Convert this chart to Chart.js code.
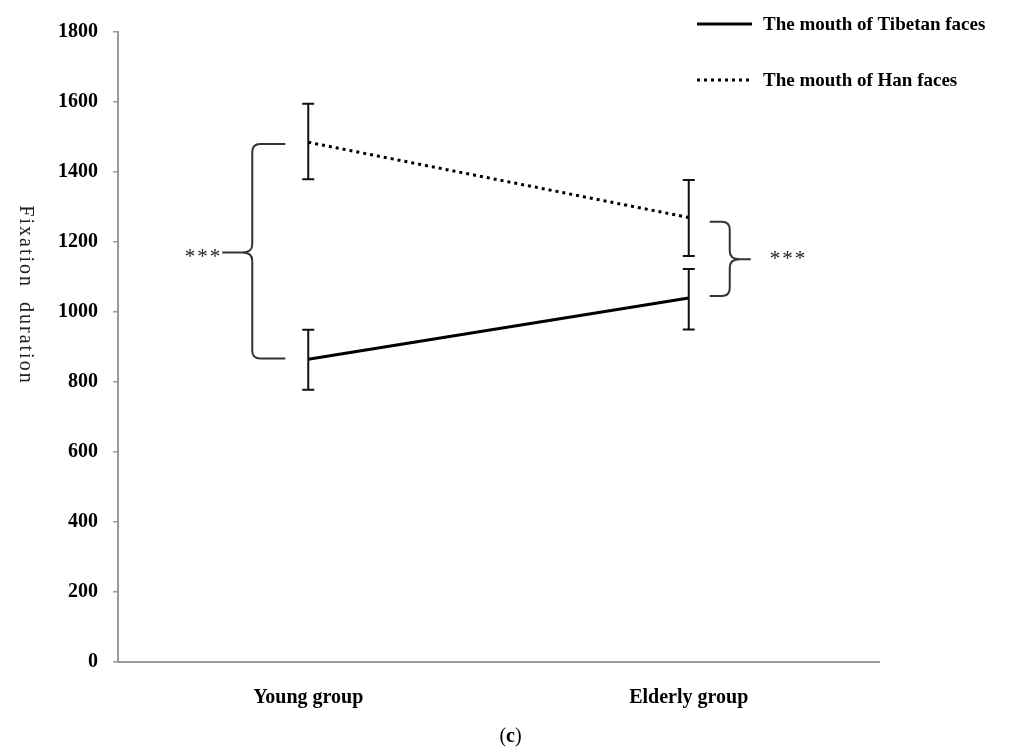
<!DOCTYPE html>
<html>
<head>
<meta charset="utf-8">
<script src="https://cdn.jsdelivr.net/npm/chart.js@4"></script>
<style>
  body { margin: 0; background: #fff; }
  #wrap { position: relative; width: 1013px; height: 749px; }
  #caption { position: absolute; left: 0; width: 1013px; top: 724px; text-align: center;
    font: 20px "Liberation Serif", serif; color: #000; padding-left: 4px; }
</style>
</head>
<body>
<div id="wrap">
  <canvas id="chart" width="1013" height="749"></canvas>
  <div id="caption">(<b>c</b>)</div>
</div>
<script>
const categories = ['Young group', 'Elderly group'];

const tibetanMean = [865, 1040];
const tibetanLow = [778, 950];
const tibetanHigh = [949, 1123];

const hanMean = [1485, 1270];
const hanLow = [1379, 1160];
const hanHigh = [1595, 1377];

const yTicks = [0, 200, 400, 600, 800, 1000, 1200, 1400, 1600, 1800];

// significance brackets: [young, elderly]
const bracketTop = [1480, 1258];
const bracketBottom = [867, 1046];
const bracketTip = [1170, 1151];
const bracketLabel = ['***', '***'];

const legendLabels = ['The mouth of Tibetan faces', 'The mouth of Han faces'];
const yTitle = 'Fixation  duration';

const serif = '"Liberation Serif", "Times New Roman", serif';

const extrasPlugin = {
  id: 'extras',
  afterDatasetsDraw(chart) {
    const ctx = chart.ctx;
    const x = chart.scales.x, y = chart.scales.y;

    // error bars
    ctx.save();
    ctx.strokeStyle = '#111';
    ctx.lineWidth = 2;
    const bars = [[tibetanLow, tibetanHigh], [hanLow, hanHigh]];
    bars.forEach(([lo, hi]) => {
      categories.forEach((c, i) => {
        const px = x.getPixelForValue(i);
        const y1 = y.getPixelForValue(lo[i]), y2 = y.getPixelForValue(hi[i]);
        ctx.beginPath();
        ctx.moveTo(px, y1); ctx.lineTo(px, y2);
        ctx.moveTo(px - 6, y1); ctx.lineTo(px + 6, y1);
        ctx.moveTo(px - 6, y2); ctx.lineTo(px + 6, y2);
        ctx.stroke();
      });
    });
    ctx.restore();

    // braces with asterisks
    ctx.save();
    ctx.strokeStyle = '#333';
    ctx.lineWidth = 2;
    categories.forEach((c, i) => {
      const px = x.getPixelForValue(i);
      const dir = i === 0 ? -1 : 1;
      const xEnd = px + dir * (i === 0 ? 23 : 21);
      const xV = px + dir * (i === 0 ? 56 : 41);
      const xTip = px + dir * (i === 0 ? 86 : 62);
      const yT = y.getPixelForValue(bracketTop[i]);
      const yB = y.getPixelForValue(bracketBottom[i]);
      const yM = y.getPixelForValue(bracketTip[i]);
      const r = 8;
      ctx.beginPath();
      ctx.moveTo(xEnd, yT);
      ctx.lineTo(xV - dir * r, yT);
      ctx.quadraticCurveTo(xV, yT, xV, yT + r);
      ctx.lineTo(xV, yM - r);
      ctx.quadraticCurveTo(xV, yM, xV + dir * 10, yM);
      ctx.lineTo(xTip, yM);
      ctx.moveTo(xV + dir * 10, yM);
      ctx.quadraticCurveTo(xV, yM, xV, yM + r);
      ctx.lineTo(xV, yB - r);
      ctx.quadraticCurveTo(xV, yB, xV - dir * r, yB);
      ctx.lineTo(xEnd, yB);
      ctx.stroke();

      ctx.fillStyle = '#222';
      ctx.font = '21px ' + serif;
      ctx.letterSpacing = '2px';
      ctx.textBaseline = 'middle';
      if (i === 0) {
        ctx.textAlign = 'right';
        ctx.fillText(bracketLabel[i], xTip, yM + 5);
      } else {
        ctx.textAlign = 'left';
        ctx.fillText(bracketLabel[i], xTip + 19, yM);
      }
    });
    ctx.restore();

    // legend
    ctx.save();
    ctx.strokeStyle = '#000';
    ctx.lineWidth = 3;
    ctx.beginPath(); ctx.moveTo(697, 24); ctx.lineTo(752, 24); ctx.stroke();
    ctx.setLineDash([3, 4]);
    ctx.beginPath(); ctx.moveTo(697, 80); ctx.lineTo(752, 80); ctx.stroke();
    ctx.setLineDash([]);
    ctx.fillStyle = '#000';
    ctx.font = 'bold 19px ' + serif;
    ctx.textAlign = 'left';
    ctx.textBaseline = 'middle';
    ctx.fillText(legendLabels[0], 763, 25);
    ctx.fillText(legendLabels[1], 763, 81);
    ctx.restore();

    // y axis title
    ctx.save();
    ctx.translate(25, 295);
    ctx.rotate(Math.PI / 2);
    ctx.fillStyle = '#222';
    ctx.font = '20px ' + serif;
    ctx.letterSpacing = '2px';
    ctx.textAlign = 'center';
    ctx.textBaseline = 'middle';
    ctx.fillText(yTitle, 0, 0);
    ctx.restore();
  }
};

new Chart(document.getElementById('chart').getContext('2d'), {
  type: 'line',
  data: {
    labels: categories,
    datasets: [{
      label: legendLabels[0],
      data: tibetanMean,
      borderColor: '#000',
      borderWidth: 3,
      pointRadius: 0,
      tension: 0,
    }, {
      label: legendLabels[1],
      data: hanMean,
      borderColor: '#000',
      borderWidth: 3,
      borderDash: [3, 4],
      pointRadius: 0,
      tension: 0,
    }]
  },
  options: {
    responsive: false,
    animation: false,
    layout: { padding: { top: 32, right: 134, left: 0, bottom: 0 } },
    plugins: {
      legend: { display: false },
      tooltip: { enabled: false }
    },
    scales: {
      x: {
        offset: true,
        grid: { display: false },
        border: { display: true, color: '#999', width: 2 },
        ticks: { color: '#000', padding: 16, font: { family: serif, size: 20, weight: 'bold' } },
        afterFit: s => { s.height = 87; }
      },
      y: {
        min: 0,
        max: 1800,
        afterBuildTicks: s => { s.ticks = yTicks.map(v => ({ value: v })); },
        grid: { drawOnChartArea: false, tickLength: 5, color: '#999', lineWidth: 1.5 },
        border: { display: true, color: '#999', width: 2 },
        ticks: {
          color: '#000', padding: 15,
          font: { family: serif, size: 20, weight: 'bold' },
          callback: v => String(v)
        },
        afterFit: s => { s.width = 118; }
      }
    }
  },
  plugins: [extrasPlugin]
});
</script>
</body>
</html>
